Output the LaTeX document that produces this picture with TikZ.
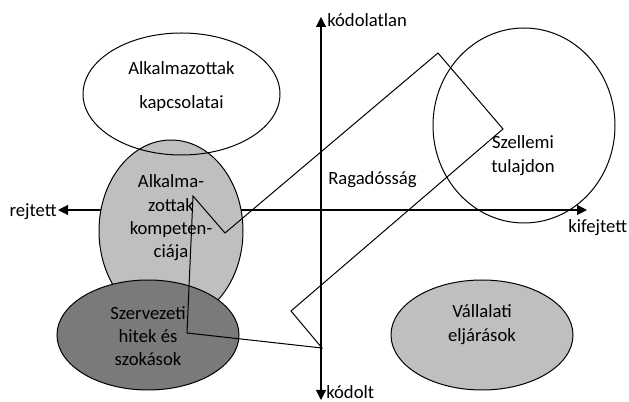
\documentclass[tikz,border=0pt]{standalone}
\usepackage{fontspec}
\setmainfont{Carlito}
\usepackage{xcolor}
\usetikzlibrary{arrows.meta,shapes.geometric}

\begin{document}
\begin{tikzpicture}
[
	x=0.75pt, y=-0.75pt,
	axis/.style={line width=0.8pt, {Triangle[length=7.5pt,width=7.5pt]}-{Triangle[length=7.5pt,width=7.5pt]}},
	blob/.style={ellipse, draw, line width=0.75pt, inner sep=0pt},
	lightblob/.style={blob, fill=black!25},
	darkblob/.style={blob, fill=black!52},
	zigzag/.style={line width=0.75pt, line join=miter},
	txt/.style={align=center, inner sep=0pt, font=\fontsize{14}{17.5}\selectfont}
]

\useasboundingbox (0,0) rectangle (629,402);

% Axis end points
\coordinate (up) at (321,17);
\coordinate (down) at (321,400);
\coordinate (west) at (58,210);
\coordinate (east) at (587,210);

% Draw axes
\draw[axis] (west) -- (east);
\draw[axis] (up) -- (down);

% Draw knowledge areas
\node[lightblob, minimum width=108pt, minimum height=136.5pt] (kompet) at (171,231) {};
\node[darkblob, minimum width=136.5pt, minimum height=82.5pt] (hitek) at (148,335) {};
\node[lightblob, minimum width=136.5pt, minimum height=82.5pt] (eljar) at (482,335) {};
\node[blob, minimum width=147.75pt, minimum height=91.5pt] (kapcs) at (181.5,94) {};
\node[blob, minimum width=136.5pt, minimum height=146.25pt] (szell) at (524,125.5) {};

% Draw stickiness outline
\draw[zigzag] (193,196)--(225,233)--(438,53)--(503,129)--(291,311)--(322,348)--(187,333)--cycle;

% Area labels
\node[txt] (kapcs-t) at (181.5,86.5) {Alkalmazottak\\[8.5pt]kapcsolatai};
\node[txt] (kompet-t) at (171,218) {Alkalma-\\zottak\\kompeten-\\ciája};
\node[txt] (hitek-t) at (148,336) {Szervezeti\\hitek és\\szokások};
\node[txt] (eljar-t) at (482,324.5) {Vállalati\\eljárások};
\node[txt] (szell-t) at (523,155.5) {Szellemi\\tulajdon};

% Axis labels
\node[txt, anchor=west] (ragad) at (328,180) {Ragadósság};
\node[txt, anchor=west] (kodolatlan) at (327,20) {kódolatlan};
\node[txt, anchor=west] (kodolt) at (326,392) {kódolt};
\node[txt, anchor=east] (rejtett) at (57,212) {rejtett};
\node[txt, anchor=west] (kifejtett) at (568,228) {kifejtett};

\end{tikzpicture}
\end{document}
